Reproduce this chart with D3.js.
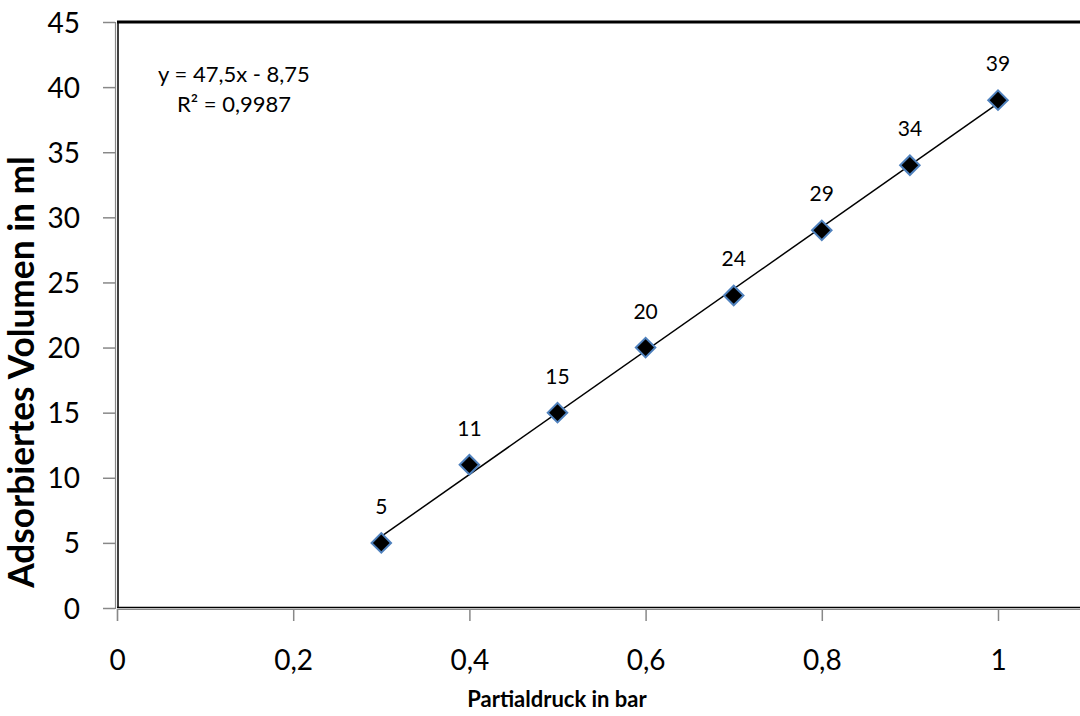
<!DOCTYPE html>
<html><head><meta charset="utf-8">
<script src="https://cdn.jsdelivr.net/npm/d3@7"></script>
<style>
html,body{margin:0;padding:0;background:#fff;overflow:hidden;}
svg{display:block;font-family:Lato,"Noto Sans",sans-serif;}
</style></head>
<body>
<svg id="chart" width="1080" height="716"></svg>
<script>
const pressure = [0.3, 0.4, 0.5, 0.6, 0.7, 0.8, 0.9, 1.0];
const volume = [5, 11, 15, 20, 24, 29, 34, 39];
const xTicks = [0, 0.2, 0.4, 0.6, 0.8, 1];
const yTicks = [0, 5, 10, 15, 20, 25, 30, 35, 40, 45];
const slope = 47.5, intercept = -8.75;
const equationLines = ["y = 47,5x - 8,75", "R² = 0,9987"];
const xTitle = "Partialdruck in bar";
const yTitle = "Adsorbiertes Volumen in ml";

const svg = d3.select("#chart");
const x = d3.scaleLinear().domain([0, 1.2]).range([117, 117 + 1.2 * 881]);
const y = d3.scaleLinear().domain([0, 45]).range([608, 22]);
const fmt = d => String(d).replace(".", ",");

// plot border
const x0 = x(0), y0 = y(0), yTop = y(45);
svg.append("line").attr("x1", x0).attr("x2", 1200).attr("y1", yTop).attr("y2", yTop)
  .attr("stroke", "#000").attr("stroke-width", 3);
svg.append("line").attr("x1", x0 + 1).attr("x2", x0 + 1).attr("y1", yTop).attr("y2", y0)
  .attr("stroke", "#000").attr("stroke-width", 1.5);
svg.append("line").attr("x1", x0).attr("x2", 1200).attr("y1", y0 - 0.5).attr("y2", y0 - 0.5)
  .attr("stroke", "#000").attr("stroke-width", 1.5);

// axes
const xAxis = d3.axisBottom(x).tickValues(xTicks).tickFormat(fmt).tickSize(12).tickPadding(29);
const yAxis = d3.axisLeft(y).tickValues(yTicks).tickFormat(fmt).tickSize(12).tickPadding(23);
const gx = svg.append("g").attr("transform", `translate(0,${y0 + 1})`).call(xAxis);
const gy = svg.append("g").attr("transform", `translate(${x0 - 2},0)`).call(yAxis);
[gx, gy].forEach(g => {
  g.select(".domain").attr("stroke", "#888").attr("stroke-width", 1.2);
  g.selectAll(".tick line").attr("stroke", "#888").attr("stroke-width", 1.5);
  g.selectAll(".tick text").attr("fill", "#000").attr("font-size", 28)
    .attr("font-family", "Lato, 'Noto Sans', sans-serif");
});
gy.selectAll(".tick text").attr("dy", "0.36em");

// trendline
svg.append("line")
  .attr("x1", x(d3.min(pressure))).attr("y1", y(slope * d3.min(pressure) + intercept))
  .attr("x2", x(d3.max(pressure))).attr("y2", y(slope * d3.max(pressure) + intercept))
  .attr("stroke", "#000").attr("stroke-width", 1.5);

const data = pressure.map((p, i) => ({p, v: volume[i]}));
// markers (diamonds)
svg.selectAll("path.pt").data(data).enter().append("path")
  .attr("class", "pt")
  .attr("d", d3.symbol().type(d3.symbolSquare).size(190))
  .attr("transform", d => `translate(${x(d.p)},${y(d.v)}) rotate(45)`)
  .attr("fill", "#000").attr("stroke", "#4f81bd").attr("stroke-width", 2);

// data labels
svg.selectAll("text.lbl").data(data).enter().append("text")
  .attr("class", "lbl")
  .attr("x", d => x(d.p)).attr("y", d => y(d.v) - 29)
  .attr("text-anchor", "middle").attr("font-size", 21)
  .text(d => d.v);

// equation
svg.selectAll("text.eq").data(equationLines).enter().append("text")
  .attr("class", "eq")
  .attr("x", 234).attr("y", (d, i) => 82 + i * 30)
  .attr("text-anchor", "middle").attr("font-size", 22)
  .text(d => d);

// axis titles
svg.append("text").attr("x", 557).attr("y", 707).attr("text-anchor", "middle")
  .attr("font-size", 22).attr("font-weight", "bold").text(xTitle);
const yt = svg.append("text").attr("transform", "translate(34,372) rotate(-90)").attr("text-anchor", "middle")
  .attr("font-size", 24).attr("font-weight", "bold").text(yTitle);
const len = yt.node().getComputedTextLength();
yt.attr("font-size", 24 * 432 / len);
</script>
</body></html>
